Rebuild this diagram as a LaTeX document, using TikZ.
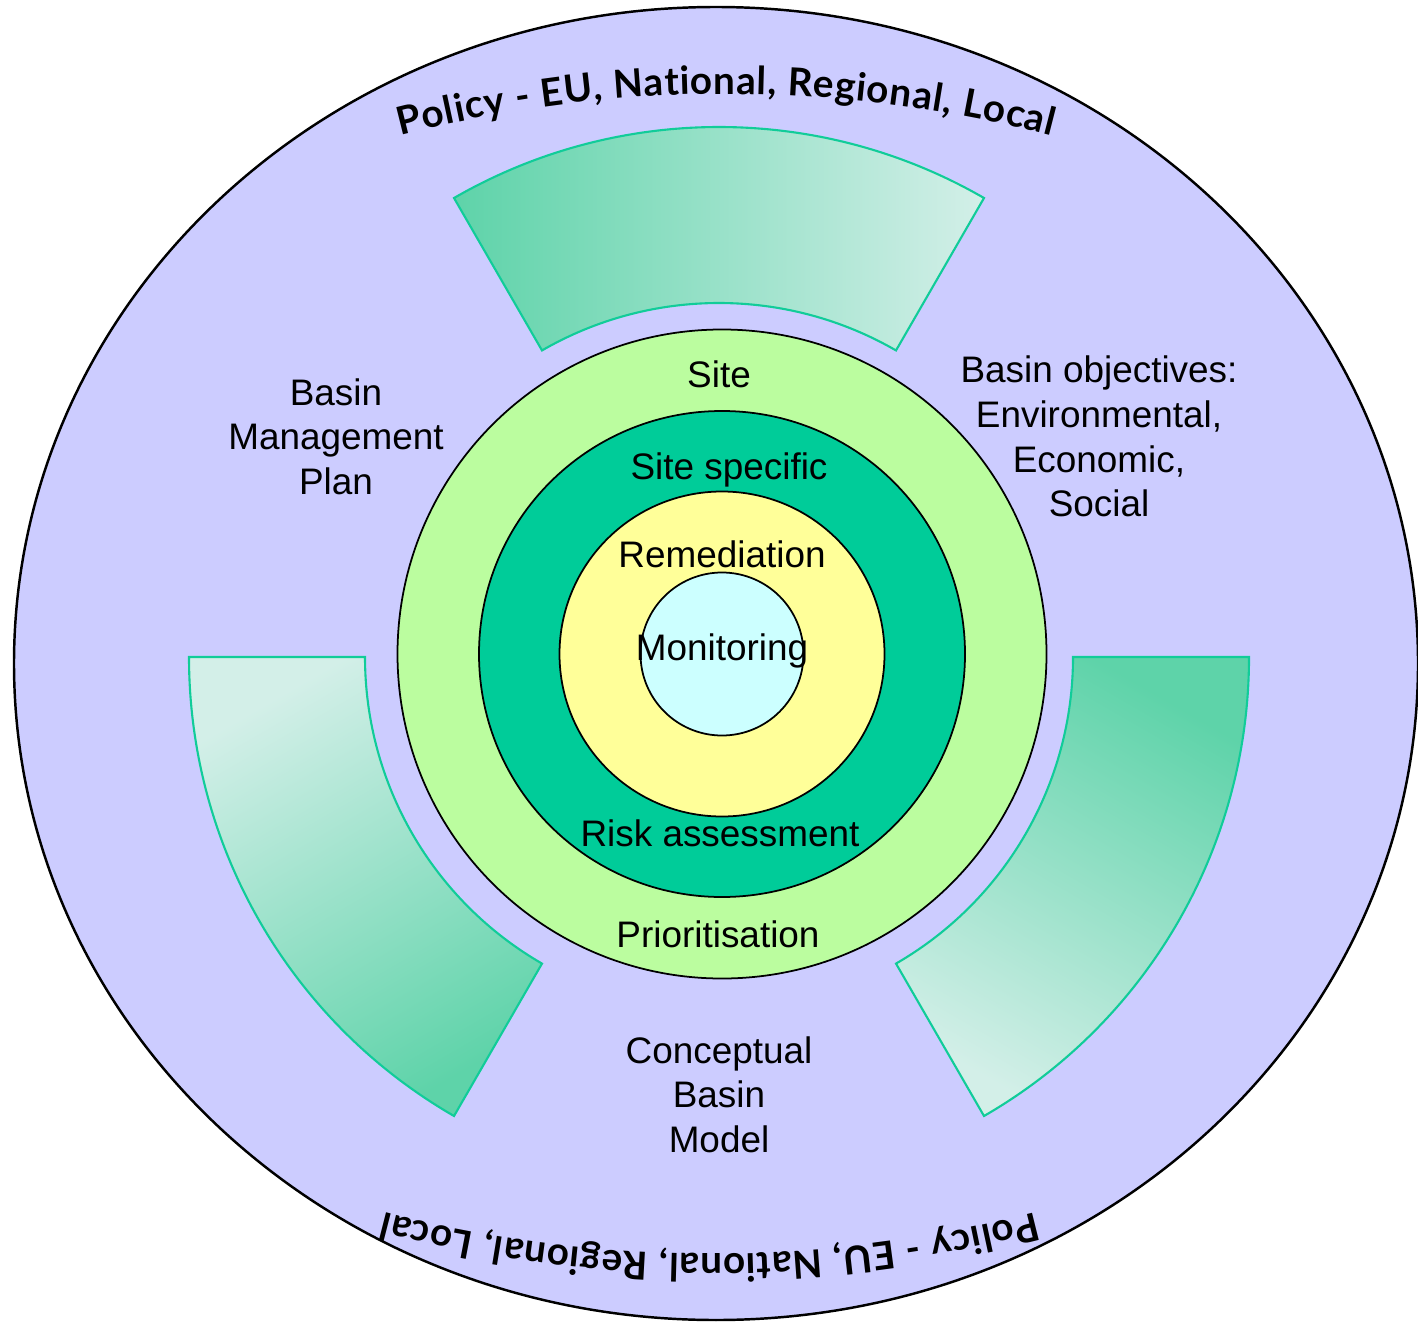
\documentclass[tikz,border=0pt]{standalone}
\usepackage{fontspec}
\setmainfont{Liberation Sans}
\newfontfamily\policyfont{Lato}
\usetikzlibrary{decorations.text}

\definecolor{basinblue}{HTML}{CCCCFF}
\definecolor{sitegreen}{HTML}{BBFD9F}
\definecolor{specgreen}{HTML}{00CC99}
\definecolor{remedyellow}{HTML}{FFFF99}
\definecolor{monitcyan}{HTML}{CCFFFF}
\definecolor{bandline}{HTML}{11CC99}
\definecolor{banddark}{HTML}{5ED3A9}
\definecolor{bandlight}{HTML}{D3EFE8}

\begin{document}
\begin{tikzpicture}[
    ring/.style={draw=black, line width=0.5pt},
    band/.style={draw=bandline, line width=0.6pt},
    lbl/.style={font=\fontsize{10.5}{12.7}\selectfont, inner sep=0pt, align=center},
    policy/.style={decorate, decoration={text along path, text align=fit to path,
        text={|\policyfont\bfseries\fontsize{11}{13}\selectfont|Policy - EU, National, Regional, Local}}}
]
\useasboundingbox (0,0) rectangle (14.18,13.24);

% outer basin
\draw[ring, fill=basinblue, line width=0.7pt] (7.16,6.605) ellipse [x radius=7.02, y radius=6.565];

% three bands
\draw[band, left color=banddark, right color=bandlight]
    ([shift={(7.19,6.67)}]60:3.54) arc[start angle=60, end angle=120, radius=3.54]
    -- ([shift={(7.19,6.67)}]120:5.30) arc[start angle=120, end angle=60, radius=5.30] -- cycle;
\draw[band, top color=bandlight, bottom color=banddark, shading angle=30]
    ([shift={(7.19,6.67)}]180:3.54) arc[start angle=180, end angle=240, radius=3.54]
    -- ([shift={(7.19,6.67)}]240:5.30) arc[start angle=240, end angle=180, radius=5.30] -- cycle;
\draw[band, top color=banddark, bottom color=bandlight, shading angle=-30]
    ([shift={(7.19,6.67)}]300:3.54) arc[start angle=300, end angle=360, radius=3.54]
    -- ([shift={(7.19,6.67)}]360:5.30) arc[start angle=360, end angle=300, radius=5.30] -- cycle;

% rings
\draw[ring, fill=sitegreen] (7.22,6.70) circle (3.245);
\draw[ring, fill=specgreen] (7.22,6.70) circle (2.43);
\draw[ring, fill=remedyellow] (7.22,6.70) circle (1.625);
\draw[ring, fill=monitcyan] (7.22,6.70) circle (0.815);

% ring labels
\node[lbl, anchor=base] (site) at (7.19,9.37) {Site};
\node[lbl, anchor=base] (specific) at (7.29,8.45) {Site specific};
\node[lbl, anchor=base] (remed) at (7.22,7.57) {Remediation};
\node[lbl, anchor=base] (monit) at (7.22,6.64) {Monitoring};
\node[lbl, anchor=base] (risk) at (7.20,4.78) {Risk assessment};
\node[lbl, anchor=base] (prior) at (7.18,3.77) {Prioritisation};

% basin labels
\node[lbl] (plan) at (3.36,8.875) {Basin\\Management\\Plan};
\node[lbl] (objectives) at (10.99,8.875) {Basin objectives:\\Environmental,\\Economic,\\Social};
\node[lbl] (model) at (7.19,2.295) {Conceptual\\Basin\\Model};

% policy text, top and bottom
\path[policy] ([shift={(7.26,-0.70)}]104.5:13) arc[start angle=104.5, end angle=75.5, radius=13];
\path[policy] ([shift={(7.10,13.70)}]-75.5:13) arc[start angle=-75.5, end angle=-104.5, radius=13];
\end{tikzpicture}
\end{document}
